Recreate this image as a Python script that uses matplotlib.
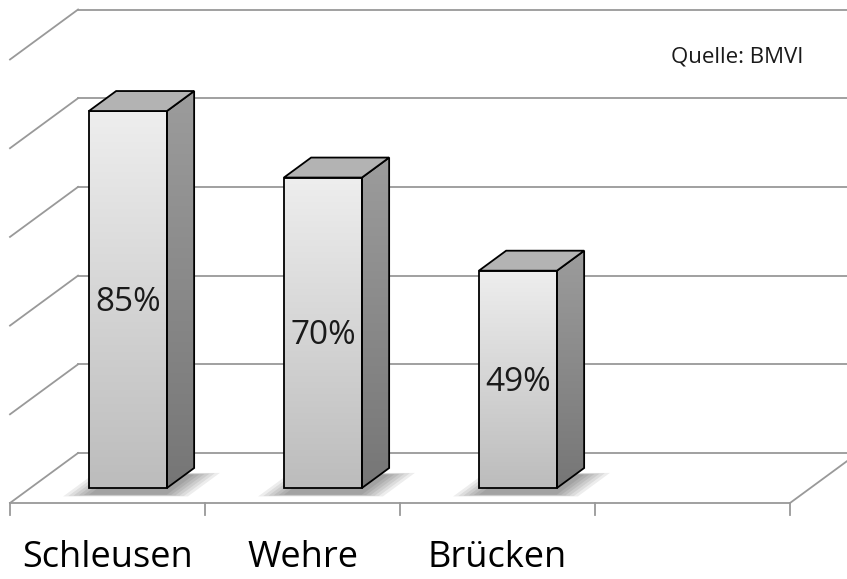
import matplotlib.pyplot as plt
import numpy as np
from matplotlib.patches import Polygon
from matplotlib.colors import LinearSegmentedColormap

# Daten
kategorien = ["Schleusen", "Wehre", "Brücken"]
anteile = [85, 70, 49]
etiketten = ["85%", "70%", "49%"]
n_plaetze = 4
gitter = [0, 20, 40, 60, 80, 100]
quelle = "Quelle: BMVI"

# 3D-Projektion (Tiefe d von 0 = vorn bis 1 = hinten)
DX = 0.349   # Verschiebung in Kategorie-Einheiten
DY = 11.27   # Verschiebung in Prozent
BREITE = 0.4
D0, D1 = 0.3, 0.7
GRAU = "#999999"


def proj(x, v, d):
    return (x + d * DX, v + d * DY)


fig = plt.figure(figsize=(8.47, 5.79), dpi=100)
ax = fig.add_axes([0, 0, 1, 1])
ax.axis("off")

# Rueckwand-Gitter und linke Wand
for g in gitter:
    a = proj(0, g, 1)
    b = proj(n_plaetze + 0.2, g, 1)
    ax.plot([a[0], b[0]], [a[1], b[1]], color=GRAU, lw=1.3, zorder=1)
    c = proj(0, g, 0)
    ax.plot([c[0], a[0]], [c[1], a[1]], color=GRAU, lw=1.3, zorder=1)

# Boden vorn und rechts
ax.plot([0, n_plaetze], [0, 0], color=GRAU, lw=1.3, zorder=1)
r = proj(n_plaetze, 0, 1)
ax.plot([n_plaetze, r[0]], [0, r[1]], color=GRAU, lw=1.3, zorder=1)
for i in range(n_plaetze + 1):
    ax.plot([i, i], [0, -2.8], color=GRAU, lw=1.3, zorder=1)

cm_front = LinearSegmentedColormap.from_list("f", ["#bcbcbc", "#eeeeee"])
cm_seite = LinearSegmentedColormap.from_list("s", ["#767676", "#9c9c9c"])
verlauf = np.linspace(0, 1, 256).reshape(-1, 1)

for i, wert in enumerate(anteile):
    x0 = i + 0.5 - BREITE / 2
    x1 = i + 0.5 + BREITE / 2

    # weicher Schatten
    for m in np.linspace(0.12, 0.0, 6):
        fuss = [proj(x0 - m, -1.5, D0 - m * 0.3), proj(x1 + m, -1.5, D0 - m * 0.3),
                proj(x1 + m, -1.5, D1 + m * 0.3), proj(x0 - m, -1.5, D1 + m * 0.3)]
        ax.add_patch(Polygon(fuss, closed=True, facecolor="black", edgecolor="none",
                             alpha=0.07, zorder=2))

    # Vorderseite
    front = [proj(x0, 0, D0), proj(x1, 0, D0), proj(x1, wert, D0), proj(x0, wert, D0)]
    p_front = Polygon(front, closed=True, facecolor="none", edgecolor="black", lw=1.3, zorder=5)
    ax.add_patch(p_front)
    fx = [p[0] for p in front]
    fy = [p[1] for p in front]
    im = ax.imshow(verlauf, extent=[min(fx), max(fx), min(fy), max(fy)], origin="lower",
                   cmap=cm_front, aspect="auto", zorder=4)
    im.set_clip_path(p_front)

    # Seite
    seite = [proj(x1, 0, D0), proj(x1, 0, D1), proj(x1, wert, D1), proj(x1, wert, D0)]
    p_seite = Polygon(seite, closed=True, facecolor="none", edgecolor="black", lw=1.3, zorder=5)
    ax.add_patch(p_seite)
    sx = [p[0] for p in seite]
    sy = [p[1] for p in seite]
    im2 = ax.imshow(verlauf, extent=[min(sx), max(sx), min(sy), max(sy)], origin="lower",
                    cmap=cm_seite, aspect="auto", zorder=4)
    im2.set_clip_path(p_seite)

    # Deckel
    deckel = [proj(x0, wert, D0), proj(x1, wert, D0), proj(x1, wert, D1), proj(x0, wert, D1)]
    ax.add_patch(Polygon(deckel, closed=True, facecolor="#b3b3b3", edgecolor="black",
                         lw=1.3, zorder=5))

    mx, my = proj(i + 0.5, wert / 2, D0)
    ax.text(mx, my - 0.6, etiketten[i], ha="center", va="center", fontsize=24,
            family="Open Sans", color="#1a1a1a", zorder=6)

    ax.text(i + 0.5, -12.4, kategorien[i], ha="center", va="center", fontsize=26,
            family="Open Sans", color="black")

ax.text(3.73, 100.6, quelle, ha="center", va="center", fontsize=16,
        family="Open Sans", color="#1a1a1a")

ax.set_xlim(-10 / 195, 837 / 195)
ax.set_ylim(-76 / 4.435, 503 / 4.435)

fig.savefig("out.png", dpi=100)
